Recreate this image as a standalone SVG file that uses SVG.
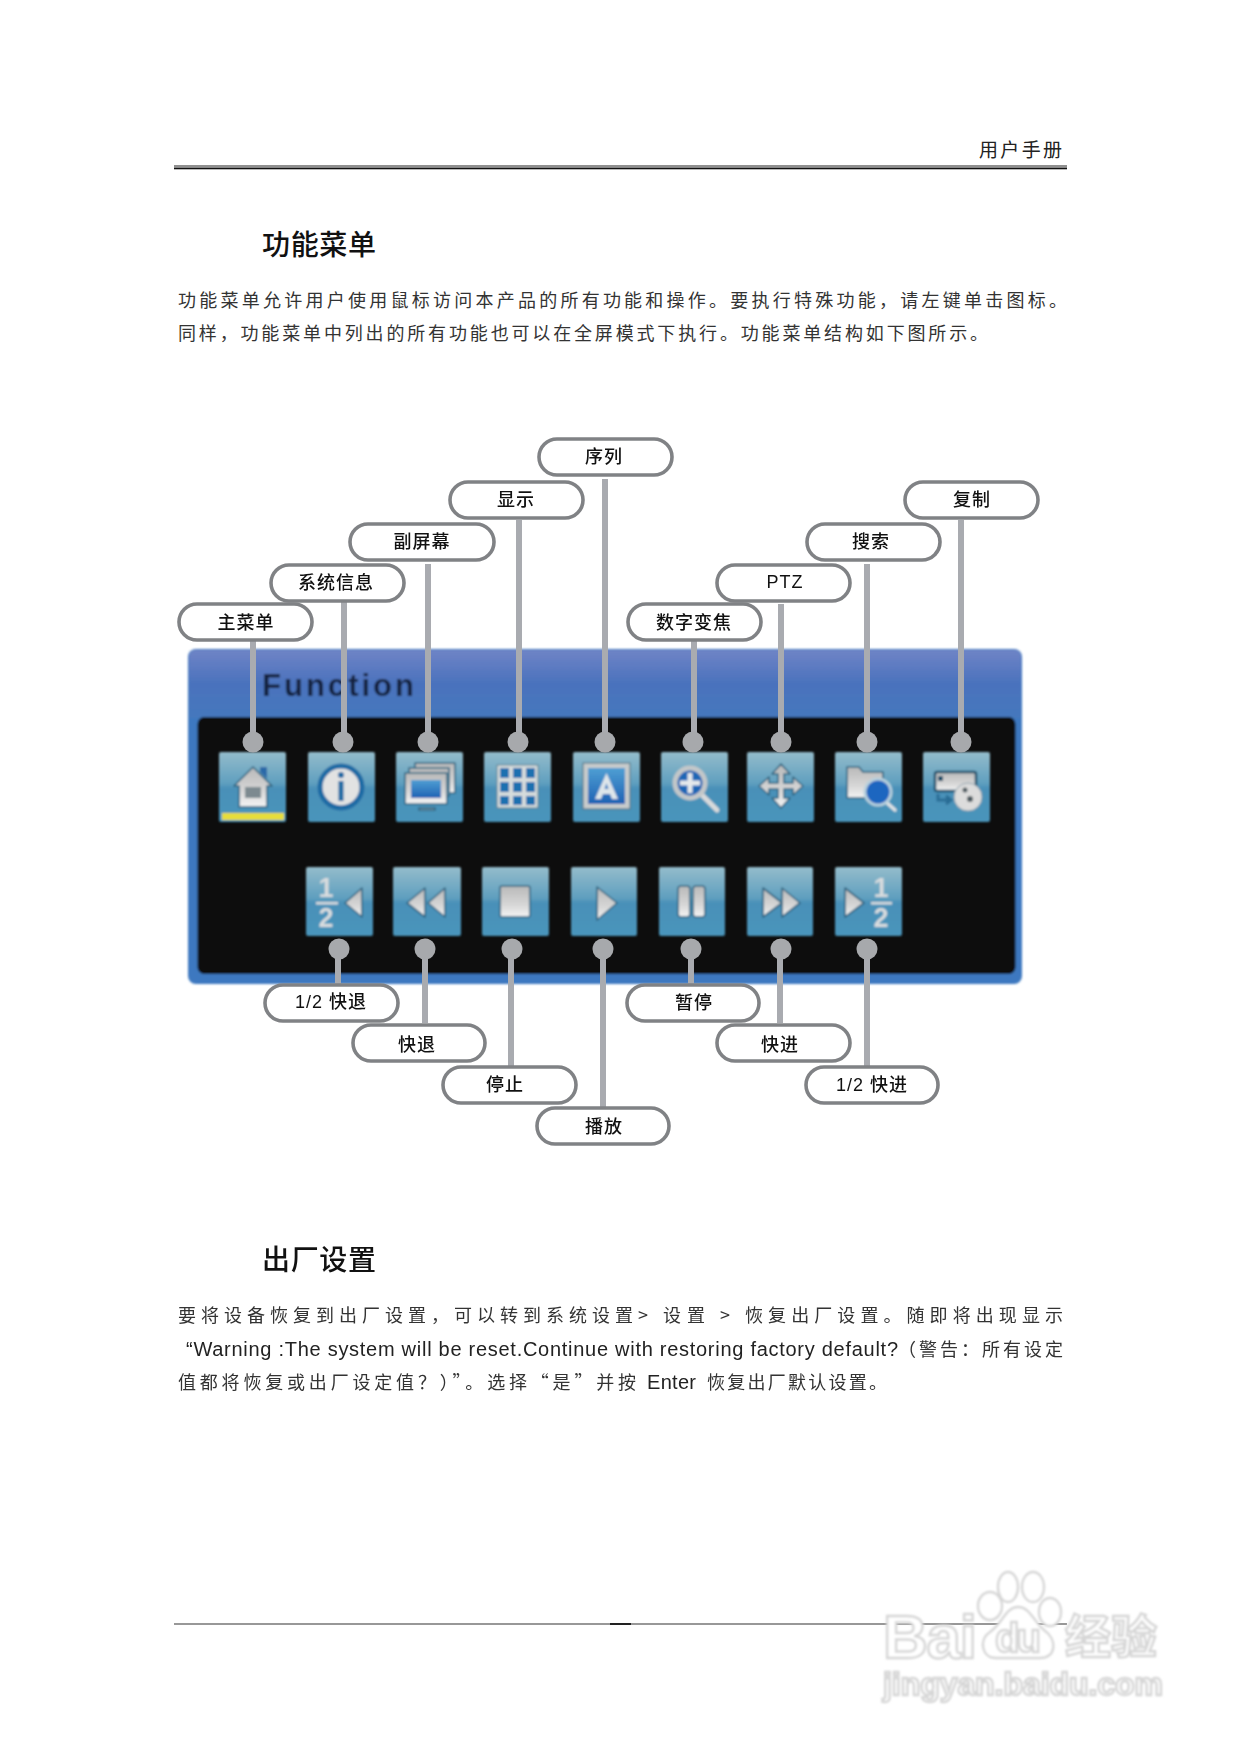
<svg xmlns="http://www.w3.org/2000/svg" width="1240" height="1754" viewBox="0 0 1240 1754">
<style>
text{font-family:"Liberation Sans","Noto Sans CJK SC",sans-serif}
.cjk{font-family:"Noto Sans CJK SC",sans-serif}
.body{font-size:18px;fill:#333}
.lat{font-size:20px;fill:#222}
.title{font-size:28px;fill:#111;font-weight:500}
.pill rect{fill:#fff;stroke:#808285;stroke-width:3.6}
.pill text{font-size:18px;fill:#111;text-anchor:middle;letter-spacing:1px;font-weight:500}
.wire line{stroke:#a9abb0;stroke-width:6}
.wire circle{fill:#a7a9ac}
.g{fill:url(#metal);stroke:#2f6480;stroke-width:1.6;stroke-linejoin:round}
.btn{fill:url(#btn)}
.num{font-size:27px;font-weight:700;fill:#d8dcde;text-anchor:middle}
.wm{fill:#fff;stroke:#d6d6d6;stroke-width:2.4}
</style>
<defs>
<linearGradient id="btn" x1="0" y1="0" x2="0" y2="1"><stop offset="0" stop-color="#94bccb"/><stop offset=".45" stop-color="#5f9fbf"/><stop offset=".52" stop-color="#4990b8"/><stop offset="1" stop-color="#4a95bb"/></linearGradient>
<linearGradient id="metal" x1="0" y1="0" x2="0" y2="1"><stop offset="0" stop-color="#b9b9b9"/><stop offset=".6" stop-color="#d6d6d6"/><stop offset="1" stop-color="#f4f4f4"/></linearGradient>
<linearGradient id="blue" x1="0" y1="0" x2="0" y2="1"><stop offset="0" stop-color="#4f9fd3"/><stop offset="1" stop-color="#1f62b4"/></linearGradient>
<linearGradient id="head" x1="0" y1="0" x2="0" y2="1"><stop offset="0" stop-color="#6f84c6"/><stop offset=".5" stop-color="#4a72bd"/><stop offset="1" stop-color="#4478bd"/></linearGradient>
<filter id="soft" x="-5%" y="-5%" width="110%" height="110%"><feGaussianBlur stdDeviation="1"/></filter>
<filter id="wmsoft" x="-5%" y="-5%" width="110%" height="110%"><feGaussianBlur stdDeviation=".8"/></filter>
</defs>
<rect width="1240" height="1754" fill="#fff"/>

<g id="header">
<text class="cjk" x="979" y="157" font-size="19" textLength="83" fill="#222">用户手册</text>
<rect x="174" y="165.5" width="893" height="1" fill="#222"/>
<rect x="174" y="167.5" width="893" height="1.8" fill="#111"/>
</g>
<text class="cjk title" x="262" y="255" textLength="114">功能菜单</text>
<text class="cjk body" x="178" y="307" textLength="889">功能菜单允许用户使用鼠标访问本产品的所有功能和操作。要执行特殊功能，请左键单击图标。</text>
<text class="cjk body" x="178" y="340" textLength="810">同样，功能菜单中列出的所有功能也可以在全屏模式下执行。功能菜单结构如下图所示。</text>

<g id="panel" filter="url(#soft)">
<rect x="188" y="649" width="834" height="335" rx="8" fill="#3d78c0"/>
<path d="M196 650H1014Q1021 650 1021 658V718H189V658Q189 650 196 650Z" fill="url(#head)"/>
<rect x="197.500" y="717" width="818" height="257" rx="7" fill="#0a0c0d"/>
<text x="262" y="696" font-size="31" font-weight="700" fill="#14233f" textLength="152">Function</text>
</g>

<g id="buttons" filter="url(#soft)">
<g id="btn-home" transform="translate(219 752)"><rect class="btn" width="67" height="70" rx="2"/><path class="g" d="M34 15 53 34H48V55H20V34H15Z"/><rect x="26" y="35" width="16" height="11" fill="#7d8a90"/><path d="M41 15h7v12l-7-7Z" fill="#2a69a8"/><rect x="3" y="61" width="62" height="7" fill="#e6dd3b"/></g>
<g id="btn-info" transform="translate(308 752)"><rect class="btn" width="67" height="70" rx="2"/><circle cx="33" cy="35" r="21" fill="#e2e2e2" stroke="#1f6ba4" stroke-width="5"/><circle cx="33" cy="23" r="3" fill="#1f6ba4"/><rect x="30.500" y="29" width="5" height="20" fill="#1f6ba4"/></g>
<g id="btn-sub" transform="translate(396 752)"><rect class="btn" width="67" height="70" rx="2"/><rect class="g" x="19" y="11" width="40" height="30"/><rect class="g" x="13" y="16" width="40" height="28"/><rect class="g" x="9" y="21" width="42" height="31"/><rect x="15" y="28" width="30" height="18" fill="url(#blue)"/><path class="g" d="M23 58h16v-2H23Z"/></g>
<g id="btn-grid" transform="translate(484 752)"><rect class="btn" width="67" height="70" rx="2"/><rect x="13" y="13" width="41" height="43" fill="#d6dcdc" stroke="#5b7f91"/><path d="M16 16h9v10h-9Zm13 0h9v10h-9Zm13 0h9v10h-9ZM16 30h9v10h-9Zm13 0h9v10h-9Zm13 0h9v10h-9ZM16 44h9v9h-9Zm13 0h9v9h-9Zm13 0h9v9h-9Z" fill="#1f6fb0"/></g>
<g id="btn-seq" transform="translate(573 752)"><rect class="btn" width="67" height="70" rx="2"/><rect x="10" y="11" width="47" height="46" fill="#c8cccc" stroke="#4d6f80"/><rect x="15" y="16" width="37" height="36" fill="url(#blue)"/><path d="M33.500 21 45 47H39L37 42H30L28 47H22ZM31.500 37H35.500L33.500 31Z" fill="#dfe6ea"/></g>
<g id="btn-zoom" transform="translate(661 752)"><rect class="btn" width="67" height="70" rx="2"/><line x1="41" y1="43" x2="56" y2="58" stroke="#d8dadb" stroke-width="5" stroke-linecap="round"/><circle cx="29" cy="31" r="15" fill="#1f66b5" stroke="#c3c7c9" stroke-width="5"/><path d="M26.500 21h5v7.500H39v5H31.500V41h-5V33.500H19v-5h7.500Z" fill="#e6e9eb"/></g>
<g id="btn-ptz" transform="translate(747 752)"><rect class="btn" width="67" height="70" rx="2"/><path class="g" d="M34 12 43 22H37V31H46V25L56 34 46 43V37H37V46H43L34 56 25 46H31V37H22V43L12 34 22 25V31H31V22H25Z"/></g>
<g id="btn-search" transform="translate(835 752)"><rect class="btn" width="67" height="70" rx="2"/><path class="g" d="M12 15H24L28 20H48V46H12Z"/><line x1="51" y1="50" x2="60" y2="58" stroke="#dfe3e5" stroke-width="3.500" stroke-linecap="round"/><circle cx="43" cy="40" r="13" fill="#1f66c0" stroke="#b7d0dd" stroke-width="3"/></g>
<g id="btn-copy" transform="translate(923 752)"><rect class="btn" width="67" height="70" rx="2"/><rect x="12" y="20" width="41" height="19" rx="2" fill="url(#metal)" stroke="#1f4f6b" stroke-width="2.500"/><rect x="15" y="24" width="5" height="5" fill="#1f4f6b"/><path d="M15 42V48H27M23 44 28 48 23 52" fill="none" stroke="#2a6d95" stroke-width="3"/><circle cx="45" cy="45" r="14" fill="#dcdcdc" stroke="#8fa2ad" stroke-width="1"/><circle cx="42" cy="38" r="2.500" fill="#4d5a60"/><circle cx="47" cy="47" r="3" fill="#4d5a60"/></g>

<g id="btn-half-rew" transform="translate(306 867)"><rect class="btn" width="67" height="69" rx="2"/><text class="num" x="20" y="30">1</text><rect x="10" y="35" width="22" height="2.500" fill="#d8dcde"/><text class="num" x="20" y="60">2</text><path class="g" d="M39 36 56 21V50Z"/></g>
<g id="btn-rew" transform="translate(393 867)"><rect class="btn" width="68" height="69" rx="2"/><path class="g" d="M14 36 32 21V50Z"/><path class="g" d="M35 36 52 21V50Z"/></g>
<g id="btn-stop" transform="translate(482 867)"><rect class="btn" width="67" height="69" rx="2"/><rect class="g" x="18" y="19" width="30" height="31" rx="2"/></g>
<g id="btn-play" transform="translate(571 867)"><rect class="btn" width="66" height="69" rx="2"/><path class="g" d="M26 20 46 36 26 53Z"/></g>
<g id="btn-pause" transform="translate(659 867)"><rect class="btn" width="66" height="69" rx="2"/><rect class="g" x="19" y="19" width="12" height="31" rx="3"/><rect class="g" x="34" y="19" width="12" height="31" rx="3"/></g>
<g id="btn-ff" transform="translate(747 867)"><rect class="btn" width="66" height="69" rx="2"/><path class="g" d="M16 21 35 36 16 50Z"/><path class="g" d="M35 21 53 36 35 50Z"/></g>
<g id="btn-half-ff" transform="translate(835 867)"><rect class="btn" width="67" height="69" rx="2"/><path class="g" d="M10 21 29 36 10 50Z"/><text class="num" x="46" y="30">1</text><rect x="36" y="35" width="21" height="2.500" fill="#d8dcde"/><text class="num" x="46" y="60">2</text></g>
</g>

<g id="connectors" class="wire">
<line x1="253" y1="641" x2="253" y2="742"/><circle cx="253" cy="742" r="10.500"/>
<line x1="344" y1="602" x2="344" y2="742"/><circle cx="343" cy="742" r="10.500"/>
<line x1="428" y1="564" x2="428" y2="742"/><circle cx="428" cy="742" r="10.500"/>
<line x1="519" y1="520" x2="519" y2="742"/><circle cx="518" cy="742" r="10.500"/>
<line x1="605" y1="479" x2="605" y2="742"/><circle cx="605" cy="742" r="10.500"/>
<line x1="694" y1="641" x2="694" y2="742"/><circle cx="693" cy="742" r="10.500"/>
<line x1="781" y1="604" x2="781" y2="742"/><circle cx="781" cy="742" r="10.500"/>
<line x1="867" y1="564" x2="867" y2="742"/><circle cx="867" cy="742" r="10.500"/>
<line x1="961" y1="520" x2="961" y2="742"/><circle cx="961" cy="742" r="10.500"/>
<line x1="338" y1="949" x2="338" y2="984"/><circle cx="339" cy="949" r="10.500"/>
<line x1="425" y1="949" x2="425" y2="1023"/><circle cx="425" cy="949" r="10.500"/>
<line x1="511" y1="949" x2="511" y2="1066"/><circle cx="512" cy="949" r="10.500"/>
<line x1="603" y1="949" x2="603" y2="1107"/><circle cx="603" cy="949" r="10.500"/>
<line x1="691" y1="949" x2="691" y2="984"/><circle cx="691" cy="949" r="10.500"/>
<line x1="780" y1="949" x2="780" y2="1023"/><circle cx="781" cy="949" r="10.500"/>
<line x1="867" y1="949" x2="867" y2="1066"/><circle cx="867" cy="949" r="10.500"/>
</g>

<g id="n-main" class="pill"><rect x="179" y="604" width="133" height="36" rx="18"/><text class="cjk" x="246" y="629">主菜单</text></g>
<g id="n-info" class="pill"><rect x="271" y="565" width="133" height="36" rx="18"/><text class="cjk" x="336" y="589">系统信息</text></g>
<g id="n-sub" class="pill"><rect x="350" y="524" width="144" height="36" rx="18"/><text class="cjk" x="422" y="548">副屏幕</text></g>
<g id="n-disp" class="pill"><rect x="450" y="482" width="133" height="36" rx="18"/><text class="cjk" x="516" y="506">显示</text></g>
<g id="n-seq" class="pill"><rect x="539" y="439" width="133" height="36" rx="18"/><text class="cjk" x="604" y="463">序列</text></g>
<g id="n-zoom" class="pill"><rect x="628" y="604" width="133" height="36" rx="18"/><text class="cjk" x="694" y="629">数字变焦</text></g>
<g id="n-ptz" class="pill"><rect x="717" y="565" width="133" height="36" rx="18"/><text x="785" y="588">PTZ</text></g>
<g id="n-search" class="pill"><rect x="807" y="524" width="133" height="36" rx="18"/><text class="cjk" x="871" y="548">搜索</text></g>
<g id="n-copy" class="pill"><rect x="905" y="482" width="133" height="36" rx="18"/><text class="cjk" x="972" y="506">复制</text></g>
<g id="n-half-rew" class="pill"><rect x="265" y="985" width="133" height="36" rx="18"/><text x="331" y="1008">1/2 快退</text></g>
<g id="n-rew" class="pill"><rect x="353" y="1025" width="132" height="36" rx="18"/><text class="cjk" x="417" y="1051">快退</text></g>
<g id="n-stop" class="pill"><rect x="443" y="1067" width="133" height="36" rx="18"/><text class="cjk" x="505" y="1091">停止</text></g>
<g id="n-play" class="pill"><rect x="537" y="1108" width="132" height="36" rx="18"/><text class="cjk" x="604" y="1133">播放</text></g>
<g id="n-pause" class="pill"><rect x="627" y="985" width="132" height="36" rx="18"/><text class="cjk" x="694" y="1009">暂停</text></g>
<g id="n-ff" class="pill"><rect x="717" y="1025" width="133" height="36" rx="18"/><text class="cjk" x="780" y="1051">快进</text></g>
<g id="n-half-ff" class="pill"><rect x="806" y="1067" width="132" height="36" rx="18"/><text x="872" y="1091">1/2 快进</text></g>

<text class="cjk title" x="262" y="1270" textLength="114">出厂设置</text>
<g id="para2">
<text class="cjk body" x="178" y="1322" textLength="470">要将设备恢复到出厂设置，可以转到系统设置&gt;</text>
<text class="cjk body" x="663" y="1322" textLength="42">设置</text>
<text class="cjk body" x="720" y="1322">&gt;</text>
<text class="cjk body" x="745" y="1322" textLength="318">恢复出厂设置。随即将出现显示</text>
<text class="lat" x="186" y="1356" textLength="712">“Warning :The system will be reset.Continue with restoring factory default?</text>
<text class="cjk body" x="898" y="1356" textLength="165">（警告：所有设定</text>
<text class="cjk body" x="178" y="1389" textLength="458">值都将恢复或出厂设定值？）”。选择“是”并按</text>
<text class="lat" x="647" y="1389" textLength="49">Enter</text>
<text class="cjk body" x="707" y="1389" textLength="180">恢复出厂默认设置。</text>
</g>

<g id="footer"><rect x="174" y="1623.500" width="893" height="1" fill="#333"/><rect x="610" y="1623" width="21" height="2" fill="#222"/></g>

<g id="watermark" filter="url(#wmsoft)" class="wm">
<ellipse cx="1008" cy="1587" rx="10" ry="15"/><ellipse cx="1033" cy="1587" rx="11" ry="15"/><ellipse cx="990" cy="1606" rx="12" ry="14"/><ellipse cx="1050" cy="1612" rx="11" ry="14"/>
<path d="M1018 1607C1030 1607 1034 1622 1044 1630C1058 1640 1056 1658 1040 1658H996C982 1658 978 1640 990 1632C1002 1624 1006 1607 1018 1607Z"/>
<text x="883" y="1658" font-size="62" font-weight="700" textLength="94">Bai</text>
<text x="995" y="1652" font-size="40" font-weight="700" textLength="46">du</text>
<text class="cjk" x="1065" y="1653" font-size="46" font-weight="700" textLength="92">经验</text>
<text x="883" y="1695" font-size="32" font-weight="700" textLength="280">jingyan.baidu.com</text>
</g>
</svg>
